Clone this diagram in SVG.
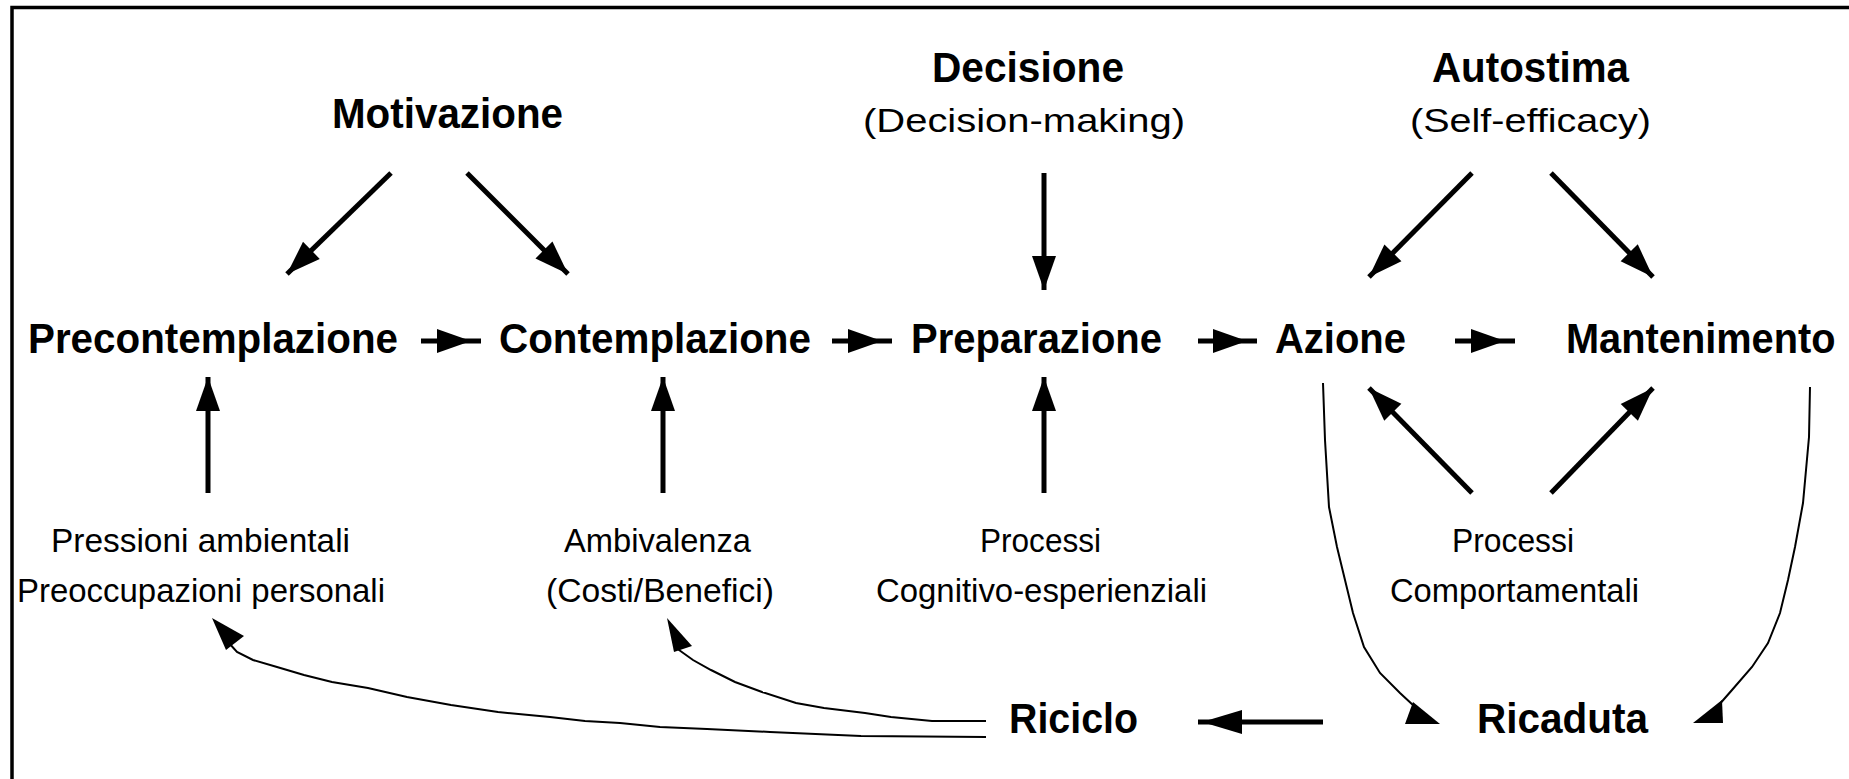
<svg xmlns="http://www.w3.org/2000/svg" width="1849" height="779" viewBox="0 0 1849 779">
<style>
.b{font-family:"Liberation Sans",Arial,sans-serif;font-weight:bold;font-size:43px;fill:#000}
.r{font-family:"Liberation Sans",Arial,sans-serif;font-size:34px;fill:#000}
.thick{stroke:#000;stroke-width:5;fill:none}
.thin{stroke:#000;stroke-width:2;fill:none}
.hd{fill:#000;stroke:none}
</style>
<defs>
<marker id="ah" markerUnits="userSpaceOnUse" viewBox="0 0 50 24" markerWidth="50" markerHeight="24" refX="34" refY="12" orient="auto" overflow="visible">
<path d="M0,0 L34,12 L0,24 Z" fill="#000"/>
</marker>
<marker id="mh" markerUnits="userSpaceOnUse" viewBox="0 0 50 24" markerWidth="50" markerHeight="24" refX="44" refY="12" orient="auto" overflow="visible">
<path d="M0,0 L34,12 L0,24 Z" fill="#000"/>
</marker>
<marker id="rh" markerUnits="userSpaceOnUse" viewBox="0 0 50 24" markerWidth="50" markerHeight="24" refX="44" refY="12" orient="auto" overflow="visible">
<path d="M0,0 L40,12 L0,24 Z" fill="#000"/>
</marker>
</defs>
<rect width="1849" height="779" fill="#fff"/>
<path d="M12,779 L12,7.5 L1849,7.5" stroke="#000" stroke-width="3.5" fill="none"/>

<g id="motivazione"><text class="b" x="332" y="128" textLength="231" lengthAdjust="spacingAndGlyphs">Motivazione</text></g>
<g id="decisione"><text class="b" x="932" y="82" textLength="192" lengthAdjust="spacingAndGlyphs">Decisione</text><text class="r" x="863" y="132" textLength="322" lengthAdjust="spacingAndGlyphs">(Decision-making)</text></g>
<g id="autostima"><text class="b" x="1432" y="82" textLength="197" lengthAdjust="spacingAndGlyphs">Autostima</text><text class="r" x="1410" y="132" textLength="241" lengthAdjust="spacingAndGlyphs">(Self-efficacy)</text></g>

<g id="precontemplazione"><text class="b" x="28" y="353" textLength="370" lengthAdjust="spacingAndGlyphs">Precontemplazione</text></g>
<g id="contemplazione"><text class="b" x="499" y="353" textLength="312" lengthAdjust="spacingAndGlyphs">Contemplazione</text></g>
<g id="preparazione"><text class="b" x="911" y="353" textLength="251" lengthAdjust="spacingAndGlyphs">Preparazione</text></g>
<g id="azione"><text class="b" x="1275" y="353" textLength="131" lengthAdjust="spacingAndGlyphs">Azione</text></g>
<g id="mantenimento" transform="translate(1566,353) scale(0.925,1)"><text class="b" x="0" y="0">Mantenimento</text></g>

<g id="pressioni"><text class="r" x="51" y="552" textLength="299" lengthAdjust="spacingAndGlyphs">Pressioni ambientali</text><text class="r" x="17" y="602" textLength="368" lengthAdjust="spacingAndGlyphs">Preoccupazioni personali</text></g>
<g id="ambivalenza"><text class="r" x="564" y="552" textLength="187" lengthAdjust="spacingAndGlyphs">Ambivalenza</text><text class="r" x="546" y="602" textLength="228" lengthAdjust="spacingAndGlyphs">(Costi/Benefici)</text></g>
<g id="processi-cognitivi"><text class="r" x="980" y="552" textLength="121" lengthAdjust="spacingAndGlyphs">Processi</text><text class="r" x="876" y="602" textLength="331" lengthAdjust="spacingAndGlyphs">Cognitivo-esperienziali</text></g>
<g id="processi-comportamentali"><text class="r" x="1452" y="552" textLength="122" lengthAdjust="spacingAndGlyphs">Processi</text><text class="r" x="1390" y="602" textLength="249" lengthAdjust="spacingAndGlyphs">Comportamentali</text></g>

<g id="riciclo"><text class="b" x="1009" y="733" textLength="129" lengthAdjust="spacingAndGlyphs">Riciclo</text></g>
<g id="ricaduta"><text class="b" x="1477" y="733" textLength="171" lengthAdjust="spacingAndGlyphs">Ricaduta</text></g>

<g id="connectors">
<path class="thick" d="M391,173 L287,274" marker-end="url(#ah)"/>
<path class="thick" d="M467,173 L568,274" marker-end="url(#ah)"/>
<path class="thick" d="M1044,173 L1044,290" marker-end="url(#ah)"/>
<path class="thick" d="M1472,173 L1369,277" marker-end="url(#ah)"/>
<path class="thick" d="M1551,173 L1653,277" marker-end="url(#ah)"/>

<path class="thick" d="M421,341 L481,341" marker-end="url(#mh)"/>
<path class="thick" d="M832,341 L892,341" marker-end="url(#mh)"/>
<path class="thick" d="M1198,341 L1257,341" marker-end="url(#mh)"/>
<path class="thick" d="M1455,341 L1515,341" marker-end="url(#mh)"/>

<path class="thick" d="M208,493 L208,377" marker-end="url(#ah)"/>
<path class="thick" d="M663,493 L663,377" marker-end="url(#ah)"/>
<path class="thick" d="M1044,493 L1044,377" marker-end="url(#ah)"/>
<path class="thick" d="M1472,493 L1369,388" marker-end="url(#ah)"/>
<path class="thick" d="M1551,493 L1653,388" marker-end="url(#ah)"/>

<path class="thick" d="M1323,722 L1198,722" marker-end="url(#rh)"/>

<polyline class="thin" points="986,737 861,736 770,732 707,729 660,727 620,723 585,721 550,717 498,712 451,705 407,697 368,688 332,682 304,675 277,667 253,660 237,652 228,642"/>
<polygon class="hd" points="212,618 244,636 226,650"/>
<polyline class="thin" points="986,721 932,721 891,717 865,713 824,708 796,703 762,692 735,682 711,670 693,660 679,650 677,642"/>
<polygon class="hd" points="667,618 692,646 674,652"/>
<polyline class="thin" points="1323,383 1325,440 1329,507 1337,547 1345,580 1353,613 1364,647 1380,673 1400,693 1414,706"/>
<polygon class="hd" points="1413,702 1440,724 1405,724"/>
<polyline class="thin" points="1810,387 1809,437 1803,503 1795,547 1788,580 1780,613 1768,643 1752,667 1732,690 1718,706"/>
<polygon class="hd" points="1693,723 1722,700 1723,723"/>
</g>
</svg>
